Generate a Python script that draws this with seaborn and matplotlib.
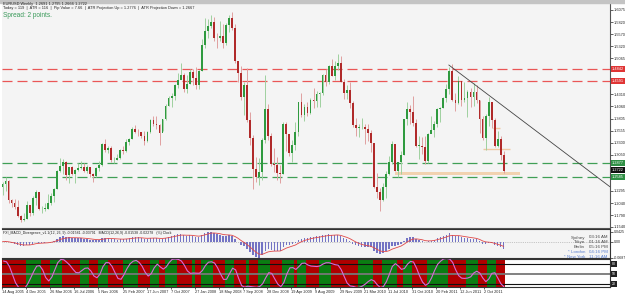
import numpy as np
import pandas as pd
import matplotlib
matplotlib.use("Agg")
import matplotlib.pyplot as plt
import matplotlib.transforms as mtrans
import seaborn as sns

# ---------------- data (EURUSD, 2-week candles) ----------------
first_open = 1.2380
close = [1.2440, 1.2510, 1.2110, 1.2050, 1.1960, 1.1770, 1.1690, 1.1710, 1.2000, 1.1840,
         1.2140, 1.2280, 1.1910, 1.1920, 1.1920, 1.2040, 1.2180, 1.2340, 1.2720, 1.2810,
         1.2900, 1.2620, 1.2790, 1.2640, 1.2740, 1.2780, 1.2800, 1.2720, 1.2800, 1.2640,
         1.2600, 1.2770, 1.2840, 1.3270, 1.3140, 1.3200, 1.2930, 1.2950, 1.2990, 1.3150,
         1.3120, 1.3320, 1.3380, 1.3590, 1.3530, 1.3520, 1.3450, 1.3330, 1.3530, 1.3780,
         1.3700, 1.3680, 1.3500, 1.3790, 1.4070, 1.4230, 1.4270, 1.4510, 1.4620, 1.4720,
         1.4420, 1.4530, 1.4780, 1.4650, 1.4500, 1.4790, 1.5350, 1.5630, 1.5740, 1.5820,
         1.5490, 1.5480, 1.5540, 1.5380, 1.5760, 1.5910, 1.5700, 1.5000, 1.4750, 1.4260,
         1.4500, 1.3780, 1.3400, 1.2750, 1.2580, 1.2690, 1.3350, 1.4000, 1.3440, 1.2860,
         1.2830, 1.2670, 1.2640, 1.3690, 1.3480, 1.3080, 1.3260, 1.3530, 1.4150, 1.3890,
         1.4040, 1.3930, 1.4200, 1.4170, 1.4310, 1.4340, 1.4710, 1.4560, 1.4900, 1.4700,
         1.4910, 1.4970, 1.4580, 1.4340, 1.4410, 1.4140, 1.3680, 1.3600, 1.3630, 1.3630,
         1.3580, 1.3510, 1.3290, 1.2370, 1.2270, 1.2110, 1.2380, 1.2640, 1.2900, 1.3280,
         1.2700, 1.2890, 1.3050, 1.3790, 1.4000, 1.3940, 1.3720, 1.3240, 1.3240, 1.3210,
         1.2910, 1.3480, 1.3570, 1.3690, 1.4000, 1.4020, 1.4230, 1.4430, 1.4810, 1.4200,
         1.4140, 1.4590, 1.4200, 1.4240, 1.4360, 1.4260, 1.4370, 1.4200, 1.3800, 1.3390,
         1.3860, 1.4150, 1.3780, 1.3230, 1.3380, 1.3050, 1.2720]
high = [1.2470, 1.2590, 1.2520, 1.2130, 1.2120, 1.2100, 1.1800, 1.1840, 1.2090, 1.2000,
        1.2180, 1.2320, 1.2250, 1.1970, 1.2040, 1.2220, 1.2250, 1.2350, 1.2730, 1.2980,
        1.2970, 1.2920, 1.2800, 1.2820, 1.2760, 1.2880, 1.2920, 1.2880, 1.2830, 1.2800,
        1.2660, 1.2800, 1.2920, 1.3290, 1.3370, 1.3240, 1.3230, 1.3000, 1.3070, 1.3180,
        1.3240, 1.3370, 1.3410, 1.3620, 1.3680, 1.3590, 1.3520, 1.3540, 1.3550, 1.3800,
        1.3850, 1.3850, 1.3700, 1.3800, 1.4100, 1.4280, 1.4350, 1.4530, 1.4750, 1.4970,
        1.4760, 1.4720, 1.4840, 1.4840, 1.4890, 1.4830, 1.5470, 1.5900, 1.5880, 1.5980,
        1.5920, 1.5600, 1.5840, 1.5780, 1.5800, 1.5960, 1.6038, 1.5780, 1.5000, 1.4900,
        1.4560, 1.4870, 1.3950, 1.3470, 1.3000, 1.2990, 1.3400, 1.4720, 1.4120, 1.3510,
        1.3190, 1.3000, 1.2840, 1.3740, 1.3740, 1.3450, 1.3350, 1.3740, 1.4160, 1.4340,
        1.4120, 1.4160, 1.4230, 1.4450, 1.4380, 1.4360, 1.4740, 1.4840, 1.4930, 1.5060,
        1.5010, 1.5145, 1.5110, 1.4640, 1.4510, 1.4580, 1.4170, 1.3820, 1.3690, 1.3820,
        1.3700, 1.3690, 1.3560, 1.3030, 1.2670, 1.2360, 1.2460, 1.2710, 1.3030, 1.3330,
        1.3200, 1.2900, 1.3120, 1.3800, 1.4160, 1.4090, 1.4282, 1.3790, 1.3450, 1.3420,
        1.3440, 1.3500, 1.3860, 1.3750, 1.4020, 1.4050, 1.4250, 1.4520, 1.4880, 1.4940,
        1.4350, 1.4700, 1.4460, 1.4580, 1.4400, 1.4450, 1.4550, 1.4500, 1.4200, 1.3850,
        1.3900, 1.4248, 1.4120, 1.3810, 1.3550, 1.3440, 1.3130]
low = [1.2200, 1.2290, 1.2050, 1.1950, 1.1910, 1.1740, 1.1640, 1.1660, 1.1700, 1.1780,
       1.1800, 1.2000, 1.1890, 1.1830, 1.1880, 1.1920, 1.1990, 1.2070, 1.2330, 1.2690,
       1.2650, 1.2530, 1.2460, 1.2630, 1.2450, 1.2720, 1.2750, 1.2680, 1.2660, 1.2590,
       1.2480, 1.2580, 1.2700, 1.2820, 1.3110, 1.3080, 1.2900, 1.2870, 1.2930, 1.2970,
       1.3060, 1.3100, 1.3250, 1.3370, 1.3500, 1.3440, 1.3390, 1.3260, 1.3320, 1.3500,
       1.3650, 1.3590, 1.3260, 1.3540, 1.3780, 1.4060, 1.4050, 1.4190, 1.4450, 1.4650,
       1.4360, 1.4330, 1.4520, 1.4500, 1.4420, 1.4430, 1.4800, 1.5280, 1.5490, 1.5690,
       1.5420, 1.5290, 1.5430, 1.5280, 1.5350, 1.5620, 1.5650, 1.4960, 1.4580, 1.4190,
       1.3880, 1.3730, 1.3260, 1.2330, 1.2480, 1.2420, 1.2520, 1.3300, 1.3360, 1.2810,
       1.2680, 1.2520, 1.2460, 1.2640, 1.3130, 1.3030, 1.2890, 1.3150, 1.3450, 1.3830,
       1.3750, 1.3850, 1.3900, 1.4020, 1.4050, 1.4050, 1.4300, 1.4480, 1.4530, 1.4690,
       1.4620, 1.4820, 1.4580, 1.4220, 1.4220, 1.4030, 1.3640, 1.3440, 1.3430, 1.3580,
       1.3270, 1.3330, 1.3110, 1.2350, 1.2150, 1.1876, 1.2080, 1.2150, 1.2620, 1.2850,
       1.2700, 1.2590, 1.2640, 1.3050, 1.3670, 1.3700, 1.3650, 1.3220, 1.2970, 1.3070,
       1.2860, 1.2874, 1.3500, 1.3430, 1.3640, 1.3730, 1.4030, 1.4150, 1.4320, 1.4170,
       1.3970, 1.4120, 1.4070, 1.4160, 1.3840, 1.4050, 1.4060, 1.4140, 1.3500, 1.3360,
       1.3140, 1.3650, 1.3610, 1.3210, 1.3210, 1.2950, 1.2660]

date_labels = ["14 Aug 2005", "4 Dec 2005", "26 Mar 2006", "16 Jul 2006", "5 Nov 2006",
               "25 Feb 2007", "17 Jun 2007", "7 Oct 2007", "27 Jan 2008", "18 May 2008",
               "7 Sep 2008", "28 Dec 2008", "19 Apr 2009", "9 Aug 2009", "29 Nov 2009",
               "21 Mar 2010", "11 Jul 2010", "31 Oct 2010", "20 Feb 2011", "12 Jun 2011",
               "2 Oct 2011"]
bars_per_label = 8

resistance = [1.4842, 1.4591]
support = [1.2877, 1.2585]
last_price = 1.2722
price_ticks = [1.6075, 1.5820, 1.5570, 1.5320, 1.5065, 1.4310, 1.4060, 1.3805,
               1.3555, 1.3300, 1.3050, 1.2295, 1.2040, 1.1790, 1.1540]
zone_x = [130.0, 171.5]
zone_y = [1.2628, 1.2690]
seg_x0 = [162.4, 159.0]
seg_x1 = [164.7, 168.0]
seg_y = [1.3609, 1.3170]
trend_x = [147.8, 201.2]
trend_y = [1.4926, 1.2380]
clock_names = ["Sydney", "Tokyo", "Berlin", "* London", "* New York"]
clock_times = ["03:16 AM", "01:16 AM", "05:16 PM", "04:16 PM", "11:16 AM"]

# ---------------- derived frame ----------------
df = pd.DataFrame({"close": close, "high": high, "low": low})
df["open"] = [first_open] + close[:-1]
df["i"] = np.arange(len(df))
ema_f = df["close"].ewm(span=6, adjust=False).mean()
ema_s = df["close"].ewm(span=13, adjust=False).mean()
df["macd"] = ema_f - ema_s
df["signal"] = df["macd"].ewm(span=5, adjust=False).mean()
ll = df["low"].rolling(5, min_periods=1).min()
hh = df["high"].rolling(5, min_periods=1).max()
k = (df["close"] - ll) / (hh - ll) * 100
df["stoch"] = k.rolling(3, min_periods=1).mean().rolling(2, min_periods=1).mean()

# ---------------- style ----------------
sns.set_theme(style="white")
plt.rcParams["font.family"] = ["Liberation Sans", "DejaVu Sans"]

W, H = 625, 294
fig = plt.figure(figsize=(W / 100, H / 100), dpi=100, facecolor="white")


def rect(x0, y0, x1, y1):
    return [x0 / W, 1 - y1 / H, (x1 - x0) / W, (y1 - y0) / H]


def fpx(x, y):
    return x / W, 1 - y / H


BG = "#f4f4f4"
XL = (-0.17, 201.2)

# gray strip at top
fig.patches.append(plt.Rectangle((0, 1 - 3 / H), 1, 3 / H, transform=fig.transFigure,
                                 color="#c4c4c4", zorder=0))

# ---------------- main price panel ----------------
ax = fig.add_axes(rect(2, 3, 610, 228))
ax.set_facecolor(BG)
ax.set_xlim(*XL)
ax.set_ylim(1.1519, 1.6221)

up = df["close"] >= df["open"]
ax.vlines(df["i"][up], df["low"][up], df["high"][up], color="#9fd09f", lw=0.7, zorder=2)
ax.vlines(df["i"][~up], df["low"][~up], df["high"][~up], color="#e0a0a0", lw=0.7, zorder=2)
body_lo = np.minimum(df["open"], df["close"])
body_h = np.maximum(np.abs(df["close"] - df["open"]), 0.0008)
ax.bar(df["i"][up], body_h[up], bottom=body_lo[up], width=0.6, color="#2f9a3f", lw=0, zorder=3)
ax.bar(df["i"][~up], body_h[~up], bottom=body_lo[~up], width=0.6, color="#b02a2a", lw=0, zorder=3)

for r in resistance:
    ax.axhline(r, color="#ea5656", lw=0.9, ls=(0, (8, 4)), zorder=1)
for s in support:
    ax.axhline(s, color="#3f9f55", lw=0.9, ls=(0, (8, 4)), zorder=1)

ax.fill_between(zone_x, zone_y[0], zone_y[1], color="#f2d2b0", lw=0, zorder=1.5)
ax.hlines(seg_y, seg_x0, seg_x1, color="#efc9a4", lw=1.0, zorder=1.5)
ax.plot(trend_x, trend_y, color="#444444", lw=0.6, zorder=4)

ax.yaxis.tick_right()
ax.set_yticks(price_ticks)
ax.set_yticklabels([f"{t:.4f}" for t in price_ticks])
ax.tick_params(axis="y", labelsize=2.8, length=2, width=0.5, pad=1, colors="#222222")
ax.set_xticks([])
for sp in ["left", "top"]:
    ax.spines[sp].set_visible(False)
for sp in ["right", "bottom"]:
    ax.spines[sp].set_color("#555555")
    ax.spines[sp].set_linewidth(0.8)

tr = mtrans.blended_transform_factory(ax.transAxes, ax.transData)
for val, col in [(resistance[0], "#e03535"), (resistance[1], "#e03535"),
                 (support[0], "#2f8f45"), (last_price, "#111111"), (support[1], "#2f8f45")]:
    ax.text(1.003, val, f"{val:.4f}", transform=tr, fontsize=2.8, color="white",
            va="center", ha="left", clip_on=False,
            bbox=dict(boxstyle="square,pad=0.25", fc=col, ec="none"))

# header text
fig.text(*fpx(3, 4.5), "EURUSD,Weekly  1.2691 1.2795 1.2666 1.2722", fontsize=2.8,
         color="#222222", va="center")
fig.text(*fpx(3, 8.5), "Today = 119  |  ATR = 116  |  Pip Value = 7.66  |  "
         "ATR Projection Up = 1.2776  |  ATR Projection Down = 1.2667",
         fontsize=2.8, color="#222222", va="center")
fig.text(*fpx(3, 15.5), "Spread: 2 points.", fontsize=4.7, color="#3a9a5a", va="center")

# ---------------- MACD panel ----------------
axm = fig.add_axes(rect(2, 229, 610, 258))
axm.set_facecolor(BG)
axm.set_xlim(*XL)
axm.bar(df["i"], df["macd"], width=0.45, color="#7474c4", lw=0, zorder=2)
sns.lineplot(x=df["i"], y=df["signal"], ax=axm, color="#e04848", lw=0.6, zorder=3)
axm.axhline(0, color="#999999", lw=0.5, ls=":", zorder=1)
mmax, mmin = df["macd"].max(), df["macd"].min()
axm.set_ylim(mmin * 1.02, mmax * 1.25)
axm.yaxis.tick_right()
axm.set_yticks([mmax, 0, mmin])
axm.set_yticklabels([f"{mmax:.4f}", "0.00", f"{mmin:.4f}"])
axm.tick_params(axis="y", labelsize=2.6, length=2, width=0.5, pad=1, colors="#222222")
axm.set_xticks([])
axm.set_xlabel("")
axm.set_ylabel("")
axm.spines["left"].set_visible(False)
for sp in ["right", "bottom", "top"]:
    axm.spines[sp].set_color("#333333")
    axm.spines[sp].set_linewidth(0.8)
axm.text(0.002, 0.93, "FXI_MACD_Divergence_v1.1(12, 26, 9) -0.01581 -0.03791   "
         "MACD(12,26,9) -0.01538 -0.02278   (%) Clock", transform=axm.transAxes,
         fontsize=2.5, color="#222222", va="top")
rows_y = [237.5, 242.3, 246.9, 252.2, 257.0]
for name, t, yy in zip(clock_names, clock_times, rows_y):
    col = "#5a7fd0" if name.startswith("*") else "#444444"
    fig.text(*fpx(585, yy), name, fontsize=3.2, color=col, ha="right", va="center")
    fig.text(*fpx(589, yy), t, fontsize=3.2, color=col, ha="left", va="center")

# ---------------- Stochastic panel ----------------
axs = fig.add_axes(rect(2, 259, 610, 287))
axs.set_facecolor("white")
axs.set_xlim(*XL)
axs.set_ylim(11, 95)
rising = df["stoch"].diff().fillna(-1) >= 0
for i, r in zip(df["i"], rising):
    axs.axvspan(i - 0.5, i + 0.5, color="#0b7d12" if r else "#b00000", lw=0, zorder=1)
sns.lineplot(x=df["i"], y=df["stoch"], ax=axs, color="#d86ad8", lw=0.8, zorder=3)
axs.axhline(80, color="#111111", lw=0.8, zorder=2)
axs.axhline(50, color="#777777", lw=1.3, zorder=2)
axs.axhline(20, color="#111111", lw=0.8, zorder=2)
trs = mtrans.blended_transform_factory(axs.transAxes, axs.transData)
for lv in [80, 50, 20]:
    axs.text(1.003, lv, f"{lv}", transform=trs, fontsize=2.5, color="white", va="center",
             ha="left", clip_on=False, bbox=dict(boxstyle="square,pad=0.3", fc="#222222", ec="none"))
axs.set_yticks([])
axs.set_xlabel("")
axs.set_ylabel("")
axs.spines["left"].set_visible(False)
for sp in ["right", "bottom", "top"]:
    axs.spines[sp].set_color("#333333")
    axs.spines[sp].set_linewidth(0.8)
tick_pos = np.arange(len(date_labels)) * bars_per_label - 0.5
axs.set_xticks(tick_pos)
axs.set_xticklabels(date_labels, ha="left")
axs.tick_params(axis="x", labelsize=2.8, length=1.5, width=0.5, pad=1, colors="#222222",
                bottom=True)

fig.savefig("out.png", dpi=100, facecolor="white")
